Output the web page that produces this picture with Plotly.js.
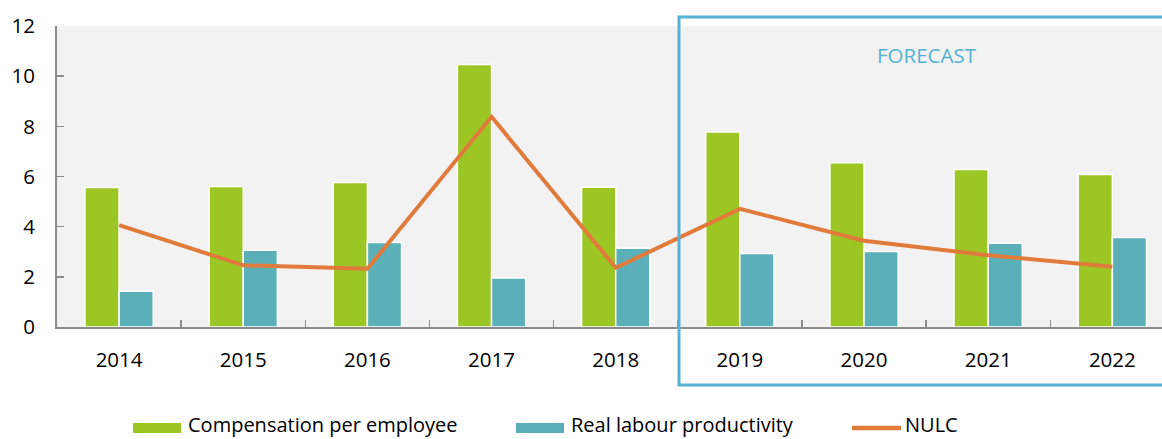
<!DOCTYPE html>
<html><head><meta charset="utf-8">
<script src="https://cdn.plot.ly/plotly-3.0.1.min.js"></script>
<style>html,body{margin:0;padding:0;background:#fff}#c{width:1162px;height:439px}</style>
</head><body><div id="c"></div>
<script>
const years = ['2014','2015','2016','2017','2018','2019','2020','2021','2022'];
const compensation = [5.56, 5.6, 5.76, 10.47, 5.57, 7.77, 6.55, 6.28, 6.08];
const productivity = [1.43, 3.06, 3.37, 1.95, 3.14, 2.93, 3.01, 3.34, 3.57];
const nulc = [4.06, 2.46, 2.32, 8.38, 2.36, 4.71, 3.44, 2.86, 2.40];
const yTicks = [0, 2, 4, 6, 8, 10, 12];

const GREEN = '#9bc623', TEAL = '#5aafb8', ORANGE = '#e07b3c', BLUE = '#55b2d3';
const FONT = 'Open Sans, sans-serif';

const traces = [
  {type:'bar', name:'Compensation per employee', x:years, y:compensation,
   marker:{color:GREEN, line:{color:'#ffffff', width:1.5}}, showlegend:false},
  {type:'bar', name:'Real labour productivity', x:years, y:productivity,
   marker:{color:TEAL, line:{color:'#ffffff', width:1.5}}, showlegend:false},
  {type:'scatter', mode:'lines', name:'NULC', x:years, y:nulc,
   line:{color:ORANGE, width:4}, showlegend:false}
];

// custom legend (paper coordinates)
const legendItems = [
  {label:'Compensation per employee', color:GREEN, kind:'bar', x0:133},
  {label:'Real labour productivity', color:TEAL, kind:'bar', x0:516},
  {label:'NULC', color:ORANGE, kind:'line', x0:850}
];
const L = 57, R = 0, T = 26, B = 112, W = 1162, H = 439;
const pw = W - L - R, ph = H - T - B;
const px = v => (v - L) / pw;
const py = v => (H - B - v) / ph;

const shapes = [
  {type:'rect', xref:'paper', yref:'paper', x0:px(679), x1:px(1175), y0:py(385), y1:py(17),
   line:{color:BLUE, width:3}, fillcolor:'rgba(0,0,0,0)', layer:'above'}
];
const annotations = [
  {xref:'paper', yref:'paper', x:px(927), y:py(55), text:'FORECAST', showarrow:false,
   font:{family:FONT, size:20.5, color:BLUE}, xanchor:'center', yanchor:'middle'}
];
legendItems.forEach(it => {
  if (it.kind === 'bar') {
    shapes.push({type:'rect', xref:'paper', yref:'paper', x0:px(it.x0), x1:px(it.x0+48),
      y0:py(433), y1:py(423), fillcolor:it.color, line:{width:0}});
  } else {
    shapes.push({type:'line', xref:'paper', yref:'paper', x0:px(it.x0+2), x1:px(it.x0+51),
      y0:py(428), y1:py(428), line:{color:it.color, width:4.5}});
  }
  annotations.push({xref:'paper', yref:'paper', x:px(it.x0+54), y:py(424.5), text:it.label,
    showarrow:false, xanchor:'left', yanchor:'middle', borderpad:0,
    font:{family:FONT, size:20, color:'#000'}});
});

const layout = {
  width:W, height:H,
  margin:{l:L, r:R, t:T, b:B, pad:0},
  paper_bgcolor:'#ffffff', plot_bgcolor:'#f2f2f2',
  barmode:'group', bargap:0.45, bargroupgap:0,
  font:{family:FONT, size:20.5, color:'#000'},
  xaxis:{type:'category', range:[-0.5, 8.4], showgrid:false, zeroline:false,
    showline:true, linecolor:'#8c8c8c', linewidth:2,
    ticks:'inside', ticklen:7, tickcolor:'#8c8c8c', tickwidth:1.5, tickson:'boundaries',
    ticklabelstandoff:13, tickfont:{family:FONT, size:20.5, color:'#000'}},
  yaxis:{range:[0, 12], tickvals:yTicks, showgrid:false, zeroline:false,
    showline:true, linecolor:'#8c8c8c', linewidth:2,
    ticks:'inside', ticklen:7, tickcolor:'#8c8c8c', tickwidth:1.5,
    ticklabelstandoff:16, tickfont:{family:FONT, size:20.5, color:'#000'}},
  shapes:shapes, annotations:annotations
};
Plotly.newPlot('c', traces, layout, {staticPlot:true, displayModeBar:false});
</script></body></html>
